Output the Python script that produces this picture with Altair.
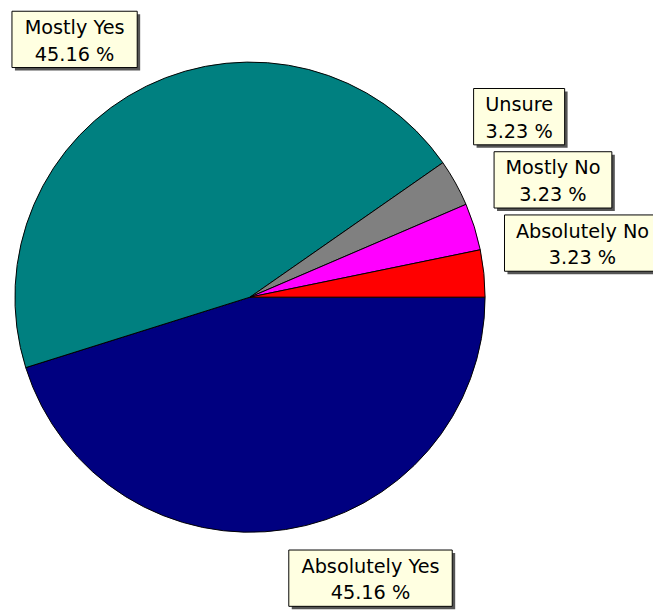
import math
import altair as alt
import pandas as pd

# ---- data ----
categories = ["Absolutely Yes", "Mostly Yes", "Unsure", "Mostly No", "Absolutely No"]
percents = [45.16, 45.16, 3.23, 3.23, 3.23]
colors = ["#000080", "#008080", "#808080", "#FF00FF", "#FF0000"]

# ---- layout constants (plot coordinates, pixels) ----
W, H = 653, 604
CX, CY, R = 245, 289, 238
LABEL_R = 259
FONT = 19.5
FONT_NAME = "DejaVu Sans"
LINE1, LINE2 = 23, 50
BOX_H = 57
PAD = 23
GAP = 7
SHADOW = 3

# DejaVu Sans advance widths (per 1000 em)
CHAR_W = {
    "A": 684, "b": 635, "s": 521, "o": 612, "l": 278, "u": 634, "t": 392,
    "e": 615, "y": 592, " ": 318, "Y": 611, "N": 748, "M": 863, "U": 732,
    "n": 634, "r": 411, ".": 318, "%": 950,
}


def text_w(s):
    return sum(CHAR_W.get(c, 636) for c in s) * FONT / 1000


total = sum(percents)
pie = pd.DataFrame({"category": categories, "percent": percents,
                    "idx": list(range(len(categories)))})

# label boxes: anchored at a point beyond the rim on each slice's mid angle
labels = []
cum = 0.0
for c, p in zip(categories, percents):
    mid = (cum + p / 2) / total * 2 * math.pi  # clockwise from 3 o'clock
    cum += p
    dx, dy = math.cos(mid), math.sin(mid)
    ax, ay = CX + LABEL_R * dx, CY + LABEL_R * dy
    line2 = f"{p:.2f} %"
    bw = max(text_w(c), text_w(line2)) + PAD
    x0 = ax if dx >= 0 else ax - bw
    y0 = ay if dy >= 0 else ay - BOX_H
    labels.append({"line1": c, "line2": line2, "x0": x0, "x1": x0 + bw,
                   "y0": y0, "y1": y0 + BOX_H, "dy": dy})

# resolve overlaps, walking counter-clockwise from 3 o'clock
placed = []
for lab in reversed(labels):
    for prev in placed:
        if (lab["x0"] < prev["x1"] and lab["x1"] > prev["x0"]
                and lab["y0"] < prev["y1"] + GAP and lab["y1"] > prev["y0"] - GAP):
            if lab["dy"] < 0:
                lab["y1"] = prev["y0"] - GAP
                lab["y0"] = lab["y1"] - BOX_H
            else:
                lab["y0"] = prev["y1"] + GAP
                lab["y1"] = lab["y0"] + BOX_H
    placed.append(lab)

lab_df = pd.DataFrame(labels)
lab_df["cx"] = (lab_df["x0"] + lab_df["x1"]) / 2
lab_df["b1"] = lab_df["y0"] + LINE1
lab_df["b2"] = lab_df["y0"] + LINE2
lab_df["sx0"] = lab_df["x0"] + SHADOW
lab_df["sx1"] = lab_df["x1"] + SHADOW
lab_df["sy0"] = lab_df["y0"] + SHADOW
lab_df["sy1"] = lab_df["y1"] + SHADOW

xs = alt.Scale(domain=[0, W], nice=False, zero=False)
ys = alt.Scale(domain=[0, H], nice=False, zero=False, reverse=True)

arcs = alt.Chart(pie).mark_arc(stroke="black", strokeWidth=1, radius=R).encode(
    theta=alt.Theta("percent:Q", stack=True,
                    scale=alt.Scale(range=[math.pi / 2, math.pi / 2 + 2 * math.pi])),
    order=alt.Order("idx:Q"),
    color=alt.Color("category:N", scale=alt.Scale(domain=categories, range=colors),
                    legend=None),
    x=alt.value(CX),
    y=alt.value(CY),
)

base = alt.Chart(lab_df)

shadow = base.mark_rect(fill="#555555").encode(
    x=alt.X("sx0:Q", scale=xs, axis=None), x2="sx1:Q",
    y=alt.Y("sy0:Q", scale=ys, axis=None), y2="sy1:Q",
)

box = base.mark_rect(fill="#FFFFE1", stroke="black", strokeWidth=1).encode(
    x=alt.X("x0:Q", scale=xs, axis=None), x2="x1:Q",
    y=alt.Y("y0:Q", scale=ys, axis=None), y2="y1:Q",
)

txt1 = base.mark_text(font=FONT_NAME, fontSize=FONT, baseline="alphabetic",
                      align="center", color="black").encode(
    x=alt.X("cx:Q", scale=xs, axis=None),
    y=alt.Y("b1:Q", scale=ys, axis=None),
    text="line1:N",
)

txt2 = base.mark_text(font=FONT_NAME, fontSize=FONT, baseline="alphabetic",
                      align="center", color="black").encode(
    x=alt.X("cx:Q", scale=xs, axis=None),
    y=alt.Y("b2:Q", scale=ys, axis=None),
    text="line2:N",
)

chart = alt.layer(arcs, shadow, box, txt1, txt2).properties(
    width=W, height=H, autosize="none", padding=0, background="white"
).configure_view(stroke=None)

chart.save("out.html", embed_options={"renderer": "svg", "actions": False})
